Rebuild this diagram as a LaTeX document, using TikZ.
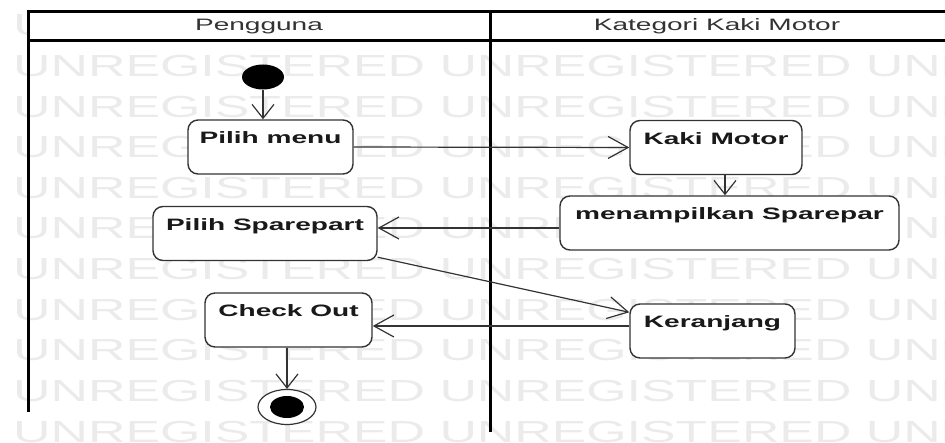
\documentclass[tikz,border=0pt]{standalone}
\usepackage{fontspec}
\setmainfont{Liberation Sans}[FakeStretch=1.7]
\newfontfamily\wmfont{Liberation Sans}[FakeStretch=1.7]
\usetikzlibrary{arrows.meta,shapes.geometric,calc}

\definecolor{inkgray}{HTML}{333333}
\definecolor{wmgray}{HTML}{EBEBEB}

\tikzset{
  lanerule/.style={line width=3pt, black},
  actbox/.style={draw=inkgray, line width=1.4pt, rounded corners=10pt, fill=white,
    inner sep=0pt, text height=24pt, text depth=30pt, align=center,
    font=\fontsize{16.5}{18}\selectfont\bfseries, text=black!90},
  lanetitle/.style={font=\fontsize{16.5}{18}\selectfont, text=inkgray},
  flow/.style={draw=inkgray, line width=1.2pt},
  hhead/.style={-{Straight Barb[length=20pt,width=22pt,line width=1.2pt]}},
  vhead/.style={-{Straight Barb[length=14pt,width=22pt,line width=1.2pt]}},
}

\begin{document}
\begin{tikzpicture}[x=1pt, y=-1pt]
\useasboundingbox (0,0) rectangle (945,443);

% background watermark rows
\begin{scope}
\clip (0,0) rectangle (945,443);
\foreach \k in {0,...,10} {
  \node[anchor=base west, inner sep=0pt, text=wmgray,
        font=\wmfont\fontsize{30.5}{32}\selectfont]
    (wm\k) at (13, 36+40.6*\k) {UNREGISTERED UNREGISTERED UNREGISTERED};
}
\end{scope}

% swimlane header and frame
\fill[white] (28,12) rectangle (945,41);
\draw[lanerule] (945,12) -- (28,12) -- (28,412);
\draw[lanerule] (28,41) -- (945,41);
\draw[lanerule] (490,12) -- (490,432);
\node[lanetitle] (lane1) at (259,26.5) {Pengguna};
\node[lanetitle] (lane2) at (717,26.5) {Kategori Kaki Motor};

% initial and final states
\node[ellipse, fill=black, inner sep=0pt, minimum width=42pt, minimum height=25pt]
  (start) at (263,77) {};
\node[ellipse, draw=inkgray, fill=white, line width=1.2pt, inner sep=0pt,
      minimum width=58pt, minimum height=35pt] (stop) at (287,407) {};
\node[ellipse, fill=black, inner sep=0pt, minimum width=34pt, minimum height=22pt]
  (stopdot) at (stop.center) {};

% activities
\node[actbox, minimum width=165pt] (menu) at (270.5,147) {Pilih menu};
\node[actbox, minimum width=172pt] (kaki) at (716,147.5) {Kaki Motor};
\node[actbox, minimum width=339pt] (tampil) at (729.5,223) {menampilkan Sparepar};
\node[actbox, minimum width=224pt] (spare) at (265,233.5) {Pilih Sparepart};
\node[actbox, minimum width=167pt] (check) at (288.5,320) {Check Out};
\node[actbox, minimum width=165pt] (keranjang) at (712.5,331) {Keranjang};

% helper coordinates for connector rows and columns
\coordinate (rowA) at (0,228);
\coordinate (rowB) at (0,326);
\coordinate (colA) at (725,0);

% control flow
\draw[flow, vhead] (start.south) -- (start.south |- menu.north);
\draw[flow, hhead] (menu.east) -- (kaki.west);
\draw[flow, vhead] (colA |- kaki.south) -- (colA |- tampil.north);
\draw[flow, hhead] (tampil.west |- rowA) -- (spare.east |- rowA);
\draw[flow, hhead] ($(spare.south east)+(0,-4)$) -- ($(keranjang.north west)+(0,9)$);
\draw[flow, hhead] (keranjang.west |- rowB) -- (check.east |- rowB);
\draw[flow, vhead] (check.south -| stop.north) -- (stop.north);
\end{tikzpicture}
\end{document}
